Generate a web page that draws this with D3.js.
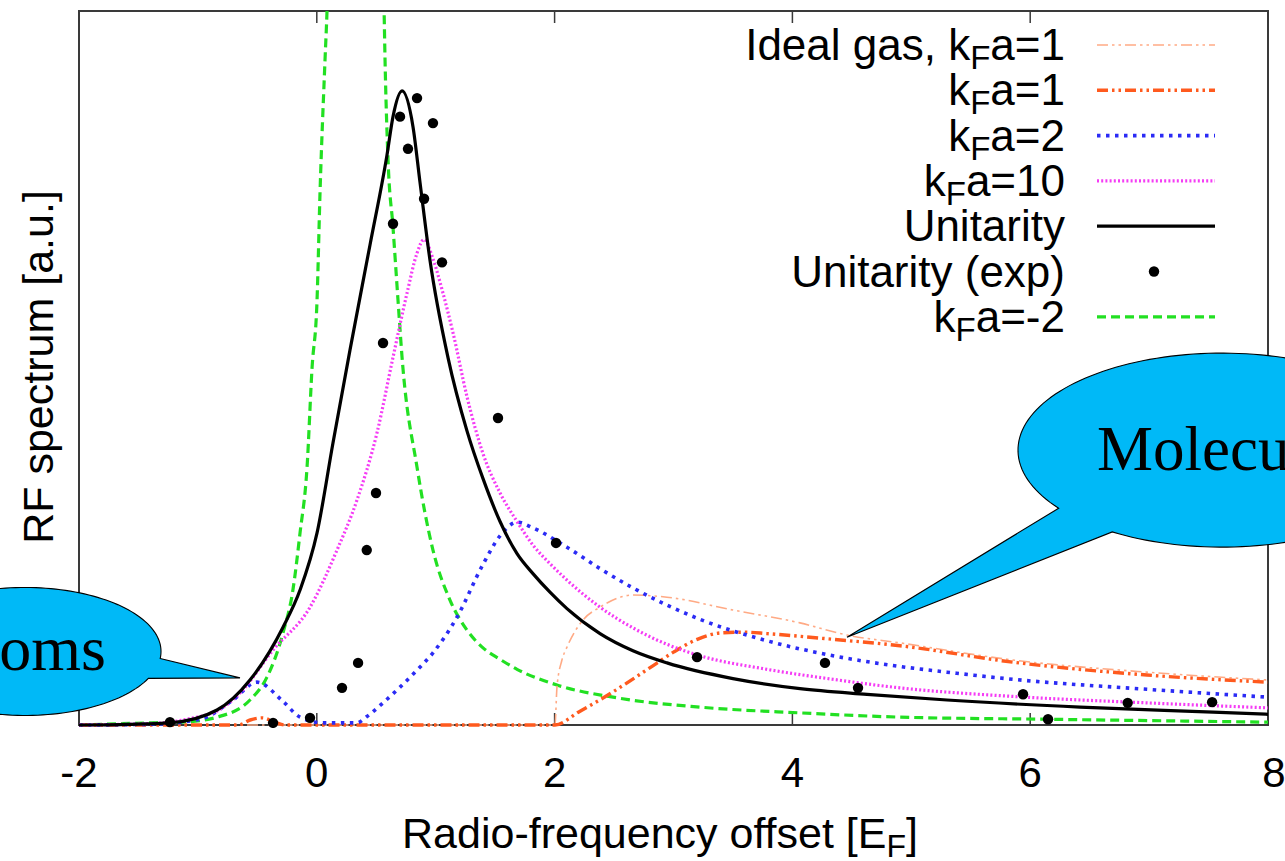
<!DOCTYPE html>
<html><head><meta charset="utf-8">
<script src="https://cdn.jsdelivr.net/npm/d3@7"></script>
<style>body{margin:0;background:#fff}svg{display:block}</style>
</head><body>
<svg id="c" width="1285" height="861"></svg>
<script>
// ---------- data ----------
const xTicks = [-2, 0, 2, 4, 6, 8];
const xTickLabels = ["-2", "0", "2", "4", "6", "8"];

const idealX = [-2, 2.003, 2.02, 2.06, 2.104, 2.239, 2.382, 2.659, 2.945, 3.5, 4.064, 4.459, 4.905, 5.855, 6.982, 8];
const idealY = [0, 0, 0.053, 0.09, 0.109, 0.147, 0.165, 0.182, 0.179, 0.161, 0.143, 0.126, 0.115, 0.091, 0.074, 0.063];

const kfa1X = [-2, -0.66, -0.56, -0.46, -0.35, -0.27, 2.003, 2.2, 2.4, 2.6, 2.8, 3.0, 3.2, 3.4, 3.6, 3.786, 4.341, 4.905, 5.855, 6.982, 8];
const kfa1Y = [0, 0, 0.007, 0.010, 0.004, 0, 0, 0.018, 0.037, 0.058, 0.080, 0.102, 0.120, 0.129, 0.130, 0.128, 0.120, 0.111, 0.088, 0.070, 0.060];

const kfa2X = [-2, -1.403, -0.982, -0.705, -0.503, -0.284, -0.141, 0.052, 0.338, 0.422, 0.55, 0.7, 0.85, 0.977, 1.179, 1.398, 1.541, 1.684, 1.818, 2.104, 2.382, 2.659, 2.945, 3.223, 3.786, 4.341, 4.905, 5.3, 5.855, 6.982, 8];
const kfa2Y = [0, 0.001, 0.008, 0.035, 0.060, 0.033, 0.011, 0.003, 0.003, 0.012, 0.030, 0.053, 0.078, 0.101, 0.151, 0.225, 0.265, 0.284, 0.276, 0.249, 0.219, 0.192, 0.168, 0.148, 0.118, 0.097, 0.082, 0.074, 0.064, 0.050, 0.039];

const kfa10X = [-2, -1.403, -1.066, -0.814, -0.646, -0.368, -0.057, 0.17, 0.338, 0.506, 0.641, 0.759, 0.843, 0.902, 0.977, 1.061, 1.146, 1.263, 1.398, 1.541, 1.684, 1.818, 1.961, 2.104, 2.382, 2.659, 2.945, 3.223, 3.786, 4.341, 4.905, 5.855, 6.982, 8];
const kfa10Y = [0, 0.002, 0.009, 0.022, 0.045, 0.105, 0.165, 0.245, 0.315, 0.409, 0.515, 0.605, 0.661, 0.680, 0.653, 0.605, 0.549, 0.460, 0.380, 0.325, 0.285, 0.252, 0.226, 0.203, 0.165, 0.136, 0.113, 0.097, 0.078, 0.064, 0.052, 0.040, 0.031, 0.024];

const unitX = [-2, -1.571, -1.235, -0.839, -0.562, -0.284, -0.141, 0.002, 0.136, 0.279, 0.447, 0.590, 0.641, 0.717, 0.809, 0.868, 0.952, 1.103, 1.263, 1.398, 1.541, 1.684, 1.818, 1.961, 2.104, 2.382, 2.659, 2.945, 3.5, 4.064, 4.627, 5.3, 6.419, 7.537, 8];
const unitY = [0, 0.001, 0.003, 0.021, 0.063, 0.137, 0.189, 0.269, 0.395, 0.525, 0.672, 0.798, 0.852, 0.888, 0.838, 0.760, 0.651, 0.515, 0.412, 0.345, 0.285, 0.240, 0.212, 0.186, 0.163, 0.128, 0.104, 0.087, 0.065, 0.051, 0.043, 0.035, 0.025, 0.018, 0.015];

const expX = [-1.235, -0.368, -0.057, 0.212, 0.347, 0.42, 0.498, 0.557, 0.641, 0.7, 0.767, 0.843, 0.902, 0.977, 1.053, 1.524, 2.012, 3.198, 4.274, 4.552, 5.94, 6.15, 6.82, 7.53];
const expY = [0.004, 0.003, 0.010, 0.052, 0.087, 0.245, 0.325, 0.535, 0.702, 0.852, 0.807, 0.878, 0.737, 0.843, 0.648, 0.430, 0.255, 0.095, 0.087, 0.052, 0.043, 0.008, 0.031, 0.032];

const kfaM2X = [-2, -1.403, -1.125, -0.839, -0.562, -0.419, -0.284, -0.2, -0.141, -0.082, -0.04, 0.002, 0.027, 0.069, 0.086, 0.15, 0.33, 0.5, 0.566, 0.574, 0.599, 0.641, 0.683, 0.717, 0.843, 0.977, 1.12, 1.263, 1.398, 1.541, 1.684, 2.02, 2.525, 3.223, 4.064, 4.905, 6.167, 8];
const kfaM2Y = [0, 0.003, 0.004, 0.011, 0.035, 0.067, 0.129, 0.19, 0.269, 0.361, 0.5, 0.595, 0.745, 0.931, 1.0, 1.5, 2.5, 1.5, 1.0, 0.931, 0.792, 0.697, 0.595, 0.515, 0.361, 0.245, 0.175, 0.133, 0.108, 0.092, 0.078, 0.056, 0.038, 0.025, 0.017, 0.011, 0.008, 0.004];

const legendLabels = [
  ["Ideal gas, k", "F", "a=1"],
  ["k", "F", "a=1"],
  ["k", "F", "a=2"],
  ["k", "F", "a=10"],
  ["Unitarity", "", ""],
  ["Unitarity (exp)", "", ""],
  ["k", "F", "a=-2"]
];

// ---------- layout ----------
const W = 1285, H = 861;
const L = 79, R = 1268, T = 11, B = 725;
const x = d3.scaleLinear().domain([-2, 8]).range([L, R]);
const y = d3.scaleLinear().domain([0, 1]).range([B, T]);
const svg = d3.select("#c");
const FONT = "'Liberation Sans', Arial, Helvetica, sans-serif";
const SERIF = "'Liberation Serif', 'Times New Roman', serif";

svg.append("rect").attr("width", W).attr("height", H).attr("fill", "#fff");

svg.append("defs").append("clipPath").attr("id", "clip")
  .append("rect").attr("x", L).attr("y", T).attr("width", R - L).attr("height", B - T + 3);

// frame
svg.append("rect").attr("x", L).attr("y", T).attr("width", R - L).attr("height", B - T)
  .attr("fill", "none").attr("stroke", "#3a3a3a").attr("stroke-width", 2);

// ticks (inward, bottom and top)
const tickG = svg.append("g");
xTicks.forEach(v => {
  tickG.append("line").attr("x1", x(v)).attr("x2", x(v)).attr("y1", B).attr("y2", B - 12)
    .attr("stroke", "#3a3a3a").attr("stroke-width", 1.5);
  tickG.append("line").attr("x1", x(v)).attr("x2", x(v)).attr("y1", T).attr("y2", T + 12)
    .attr("stroke", "#3a3a3a").attr("stroke-width", 1.5);
});
svg.append("g").selectAll("text").data(xTicks).join("text")
  .attr("x", d => x(d) + (d === 8 ? 6 : 0)).attr("y", 787).attr("text-anchor", "middle")
  .attr("font-family", FONT).attr("font-size", 42).attr("fill", "#000")
  .text((d, i) => xTickLabels[i]);

// axis labels
const xl = svg.append("text").attr("x", 660).attr("y", 848).attr("text-anchor", "middle")
  .attr("font-family", FONT).attr("font-size", 43).attr("fill", "#000");
xl.append("tspan").text("Radio-frequency offset [E");
xl.append("tspan").attr("font-size", 32).attr("dy", 9).text("F");
xl.append("tspan").attr("dy", -9).text("]");

svg.append("text").attr("transform", "translate(53,367) rotate(-90)").attr("text-anchor", "middle")
  .attr("font-family", FONT).attr("font-size", 43).attr("fill", "#000")
  .text("RF spectrum [a.u.]");

// series
const series = [
  { xs: idealX, ys: idealY, color: "#ffaa85", w: 1.6, dash: "11,4,2.5,4,2.5,4" },
  { xs: kfa1X, ys: kfa1Y, color: "#ff5a1e", w: 3.4, dash: "11,4,2.5,4,2.5,4" },
  { xs: kfa2X, ys: kfa2Y, color: "#2b2bf5", w: 3.6, dash: "3.5,5.5" },
  { xs: kfa10X, ys: kfa10Y, color: "#f53cf5", w: 3.2, dash: "2,2.2" },
  { xs: unitX, ys: unitY, color: "#000000", w: 3.2, dash: null },
  { dots: true },
  { xs: kfaM2X, ys: kfaM2Y, color: "#22e022", w: 3.2, dash: "9,5" }
];

const plot = svg.append("g").attr("clip-path", "url(#clip)");
const line = d3.line().x(d => x(d[0])).y(d => y(d[1])).curve(d3.curveMonotoneX);
const drawOrder = [6, 0, 1, 2, 3, 4];
drawOrder.forEach(i => {
  const s = series[i];
  plot.append("path").datum(s.xs.map((v, j) => [v, s.ys[j]]))
    .attr("d", line).attr("fill", "none").attr("stroke", s.color)
    .attr("stroke-width", s.w).attr("stroke-dasharray", s.dash)
    .attr("stroke-linejoin", "round");
});
plot.append("g").selectAll("circle").data(expX.map((v, j) => [v, expY[j]])).join("circle")
  .attr("cx", d => x(d[0])).attr("cy", d => y(d[1])).attr("r", 5.2).attr("fill", "#000");

// legend
const lg = svg.append("g");
legendLabels.forEach((lab, i) => {
  const ly = 45 + i * 45.3;
  const t = lg.append("text").attr("x", 1065).attr("y", ly + 15).attr("text-anchor", "end")
    .attr("font-family", FONT).attr("font-size", 44).attr("fill", "#000");
  t.append("tspan").text(lab[0]);
  if (lab[1]) {
    t.append("tspan").attr("font-size", 33).attr("dy", 9).text(lab[1]);
    t.append("tspan").attr("dy", -9).text(lab[2]);
  }
  const s = series[i];
  if (s.dots) {
    lg.append("circle").attr("cx", 1154).attr("cy", ly).attr("r", 5.2).attr("fill", "#000");
  } else {
    lg.append("line").attr("x1", 1097).attr("x2", 1215).attr("y1", ly).attr("y2", ly)
      .attr("stroke", s.color).attr("stroke-width", s.w).attr("stroke-dasharray", s.dash);
  }
});

// callouts (annotations placed in data coordinates)
function callout(cx, cy, rx, ry, a1, a2, tipX, tipY) {
  const tip = [x(tipX), y(tipY)];
  let span = a1 - a2;
  if (Math.abs(span) < Math.PI) span -= Math.sign(span) * 2 * Math.PI;
  const pts = [[cx + rx * Math.cos(a1), cy + ry * Math.sin(a1)], tip];
  const n = 160;
  for (let k = 0; k <= n; k++) {
    const a = a2 + span * k / n;
    pts.push([cx + rx * Math.cos(a), cy + ry * Math.sin(a)]);
  }
  svg.append("path").attr("d", d3.line()(pts) + "Z")
    .attr("fill", "#00b9f7").attr("stroke", "#000").attr("stroke-width", 1.1)
    .attr("stroke-linejoin", "miter");
}
const mcx = x(7.613), mcy = y(0.385);
callout(mcx, mcy, 204, 97, Math.atan2(0.598, -0.799), Math.atan2(0.845, -0.539), 4.459, 0.123);
svg.append("text").attr("x", x(6.562)).attr("y", y(0.357)).attr("font-family", SERIF)
  .attr("font-size", 63).attr("fill", "#000").text("Molecules");

const acx = x(-2.454), acy = y(0.103);
callout(acx, acy, 136, 64, Math.atan2(0.11, 0.994), Math.atan2(0.42, 0.906), -0.646, 0.066);
svg.append("text").attr("x", x(-1.773)).attr("y", y(0.077)).attr("text-anchor", "end")
  .attr("font-family", SERIF).attr("font-size", 64).attr("fill", "#000").text("Atoms");
</script>
</body></html>
